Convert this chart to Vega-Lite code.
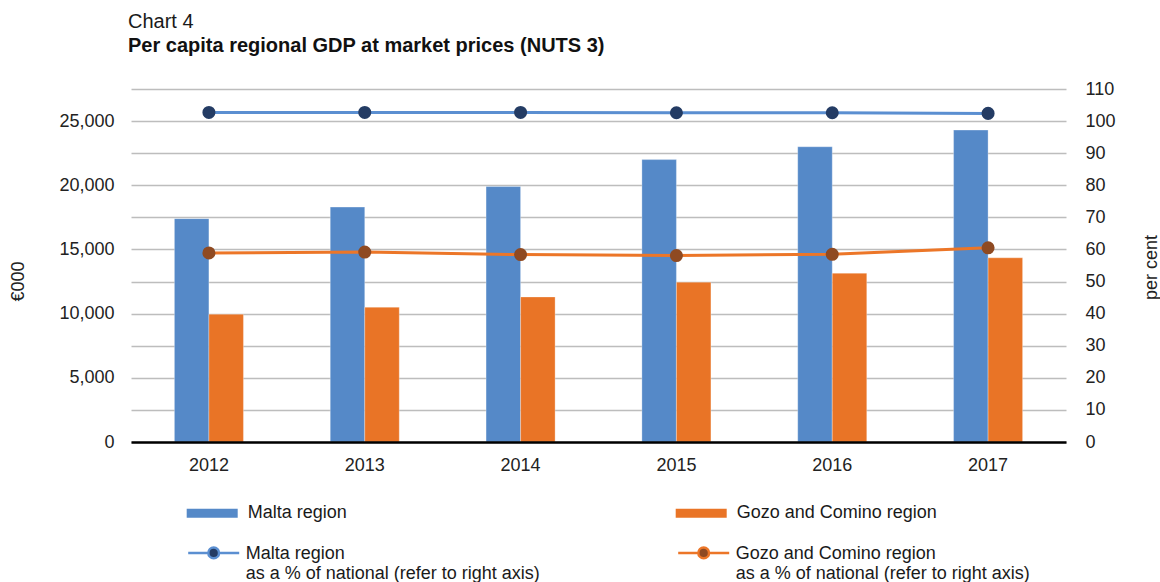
{
  "$schema": "https://vega.github.io/schema/vega-lite/v6.json",
  "width": 935,
  "height": 353,
  "autosize": {"type": "none"},
  "padding": {"left": 131, "top": 89, "right": 94, "bottom": 140},
  "background": "white",
  "title": {
    "text": "Chart 4",
    "subtitle": "Per capita regional GDP at market prices (NUTS 3)",
    "anchor": "start",
    "frame": "group",
    "dx": -3,
    "offset": 24,
    "font": "Liberation Sans",
    "fontSize": 20,
    "fontWeight": "normal",
    "color": "#1a1a1a",
    "subtitleFont": "Liberation Sans",
    "subtitleFontSize": 20,
    "subtitleFontWeight": "bold",
    "subtitleColor": "#111111",
    "subtitlePadding": 4
  },
  "datasets": {
    "gdp": [
      {"year": "2012", "region": "Malta region", "value": 17400},
      {"year": "2013", "region": "Malta region", "value": 18300},
      {"year": "2014", "region": "Malta region", "value": 19900},
      {"year": "2015", "region": "Malta region", "value": 22000},
      {"year": "2016", "region": "Malta region", "value": 23000},
      {"year": "2017", "region": "Malta region", "value": 24300},
      {"year": "2012", "region": "Gozo and Comino region", "value": 9950},
      {"year": "2013", "region": "Gozo and Comino region", "value": 10500},
      {"year": "2014", "region": "Gozo and Comino region", "value": 11300},
      {"year": "2015", "region": "Gozo and Comino region", "value": 12450},
      {"year": "2016", "region": "Gozo and Comino region", "value": 13150},
      {"year": "2017", "region": "Gozo and Comino region", "value": 14350}
    ],
    "pct": [
      {"year": "2012", "series": "Malta region as a % of national (refer to right axis)", "pct": 102.7},
      {"year": "2013", "series": "Malta region as a % of national (refer to right axis)", "pct": 102.7},
      {"year": "2014", "series": "Malta region as a % of national (refer to right axis)", "pct": 102.7},
      {"year": "2015", "series": "Malta region as a % of national (refer to right axis)", "pct": 102.6},
      {"year": "2016", "series": "Malta region as a % of national (refer to right axis)", "pct": 102.6},
      {"year": "2017", "series": "Malta region as a % of national (refer to right axis)", "pct": 102.4},
      {"year": "2012", "series": "Gozo and Comino region as a % of national (refer to right axis)", "pct": 58.9},
      {"year": "2013", "series": "Gozo and Comino region as a % of national (refer to right axis)", "pct": 59.2},
      {"year": "2014", "series": "Gozo and Comino region as a % of national (refer to right axis)", "pct": 58.4},
      {"year": "2015", "series": "Gozo and Comino region as a % of national (refer to right axis)", "pct": 58.1},
      {"year": "2016", "series": "Gozo and Comino region as a % of national (refer to right axis)", "pct": 58.5},
      {"year": "2017", "series": "Gozo and Comino region as a % of national (refer to right axis)", "pct": 60.5}
    ]
  },
  "encoding": {
    "x": {
      "field": "year",
      "type": "nominal",
      "scale": {"paddingInner": 0.557, "paddingOuter": 0.2785},
      "axis": {
        "title": null,
        "labelAngle": 0,
        "labelFontSize": 18,
        "labelColor": "#222222",
        "labelPadding": 14,
        "ticks": false,
        "tickSize": 0,
        "domainColor": "#000000",
        "domainWidth": 2.5,
        "grid": false,
        "zindex": 1
      }
    }
  },
  "layer": [
    {
      "data": {"name": "gdp"},
      "mark": {"type": "bar", "stroke": "#ffffff", "strokeWidth": 0.5, "strokeOpacity": 0.6},
      "encoding": {
        "xOffset": {
          "field": "region",
          "type": "nominal",
          "scale": {"domain": ["Malta region", "Gozo and Comino region"], "paddingInner": 0, "paddingOuter": 0}
        },
        "y": {
          "field": "value",
          "type": "quantitative",
          "scale": {"domain": [0, 27500], "nice": false, "zero": true},
          "axis": {
            "orient": "left",
            "values": [0, 5000, 10000, 15000, 20000, 25000],
            "format": ",.0f",
            "grid": false,
            "domain": false,
            "ticks": false,
            "labelFontSize": 18,
            "labelColor": "#222222",
            "labelPadding": 17,
            "title": "€000",
            "titleFontSize": 18,
            "titleFontWeight": "normal",
            "titleColor": "#222222",
            "titleAngle": -90,
            "titleX": -113,
            "titleY": 192,
            "titleAlign": "center",
            "titleBaseline": "middle"
          }
        },
        "color": {
          "field": "region",
          "type": "nominal",
          "scale": {"domain": ["Malta region", "Gozo and Comino region"], "range": ["#5589C8", "#E97426"]},
          "legend": {
            "title": null,
            "orient": "none",
            "legendX": 55.7,
            "legendY": 398.5,
            "direction": "horizontal",
            "columns": 2,
            "columnPadding": 328,
            "symbolType": "M-1,-0.18H1V0.18H-1Z",
            "symbolSize": 2601,
            "symbolStrokeWidth": 0,
            "symbolOpacity": 1,
            "labelOffset": 10,
            "labelFontSize": 18,
            "labelColor": "#1a1a1a",
            "labelBaseline": "middle",
            "labelLimit": 600,
            "padding": 0
          }
        }
      }
    },
    {
      "data": {"name": "pct"},
      "encoding": {
        "y": {
          "field": "pct",
          "type": "quantitative",
          "scale": {"domain": [0, 110], "nice": false},
          "axis": {
            "orient": "right",
            "values": [0, 10, 20, 30, 40, 50, 60, 70, 80, 90, 100, 110],
            "grid": true,
            "gridColor": "#BDBDBD",
            "gridWidth": 1.5,
            "domain": false,
            "ticks": false,
            "labelFontSize": 18,
            "labelColor": "#222222",
            "labelPadding": 19,
            "title": "per cent",
            "titleFontSize": 18,
            "titleFontWeight": "normal",
            "titleColor": "#222222",
            "titleAngle": -90,
            "titleX": 85,
            "titleY": 178,
            "titleAlign": "center",
            "titleBaseline": "middle"
          }
        }
      },
      "layer": [
        {
          "mark": {"type": "line", "strokeWidth": 3},
          "encoding": {
            "stroke": {
              "field": "series",
              "type": "nominal",
              "scale": {
                "domain": ["Malta region as a % of national (refer to right axis)", "Gozo and Comino region as a % of national (refer to right axis)"],
                "range": ["#5B8FD1", "#EC7628"]
              },
              "legend": {
                "title": null,
                "orient": "none",
                "legendX": 55.7,
                "legendY": 429,
                "direction": "horizontal",
                "columns": 2,
                "columnPadding": 132,
                "symbolType": "M-1,0.31H-0.21M0.21,0.31H1M-0.21,0.31A0.21,0.21 0 1,0 0.21,0.31A0.21,0.21 0 1,0 -0.21,0.31Z",
                "symbolSize": 2601,
                "symbolStrokeWidth": 2.5,
                "symbolOpacity": 1,
                "labelOffset": 5,
                "labelFontSize": 18,
                "labelColor": "#1a1a1a",
                "labelBaseline": "top",
                "labelLimit": 600,
                "labelExpr": "[replace(datum.label, ' as a % of national (refer to right axis)', ''), 'as a % of national (refer to right axis)']",
                "padding": 0
              }
            }
          }
        },
        {
          "mark": {"type": "circle", "size": 170, "opacity": 1},
          "encoding": {
            "fill": {
              "field": "series",
              "type": "nominal",
              "scale": {
                "domain": ["Malta region as a % of national (refer to right axis)", "Gozo and Comino region as a % of national (refer to right axis)"],
                "range": ["#243C64", "#8F4A22"]
              },
              "legend": {
                "title": null,
                "orient": "none",
                "legendX": 55.7,
                "legendY": 429,
                "direction": "horizontal",
                "columns": 2,
                "columnPadding": 132,
                "symbolType": "M-1,0.31H-0.21M0.21,0.31H1M-0.21,0.31A0.21,0.21 0 1,0 0.21,0.31A0.21,0.21 0 1,0 -0.21,0.31Z",
                "symbolSize": 2601,
                "symbolStrokeWidth": 2.5,
                "symbolOpacity": 1,
                "labelOffset": 5,
                "labelFontSize": 18,
                "labelColor": "#1a1a1a",
                "labelBaseline": "top",
                "labelLimit": 600,
                "labelExpr": "[replace(datum.label, ' as a % of national (refer to right axis)', ''), 'as a % of national (refer to right axis)']",
                "padding": 0
              }
            }
          }
        }
      ]
    }
  ],
  "resolve": {"scale": {"y": "independent"}},
  "config": {
    "font": "Liberation Sans",
    "view": {"stroke": null},
    "axis": {"labelFont": "Liberation Sans", "titleFont": "Liberation Sans"},
    "legend": {"labelFont": "Liberation Sans"}
  }
}
